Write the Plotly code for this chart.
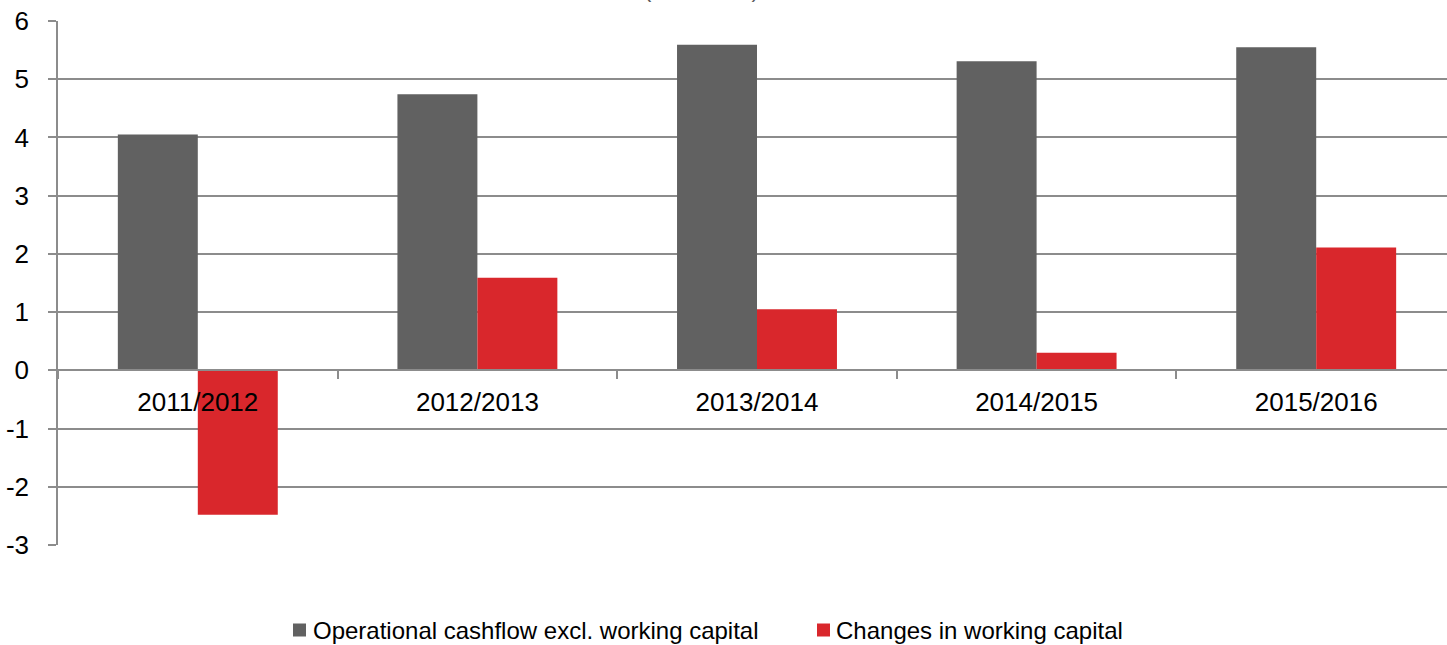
import plotly.graph_objects as go

categories = ["2011/2012", "2012/2013", "2013/2014", "2014/2015", "2015/2016"]
operational = [4.05, 4.74, 5.59, 5.31, 5.55]
working_capital = [-2.48, 1.59, 1.05, 0.30, 2.11]
series_names = ["Operational cashflow excl. working capital", "Changes in working capital"]
y_ticks = [-3, -2, -1, 0, 1, 2, 3, 4, 5, 6]
y_tick_text = ["-3", "-2", "-1", "0", "1", "2", "3", "4", "5", "6"]
title_text = "(in EUR bn)"

GREY = "#616161"
RED = "#D9272C"
AX = "#8c8c8c"
colors = [GREY, RED]

W, H = 1447, 645
ML, MT, MB = 58, 21, 100
PW, PH = W - ML, H - MT - MB

fig = go.Figure()
for name, vals, col in zip(series_names, [operational, working_capital], colors):
    fig.add_trace(go.Bar(x=categories, y=vals, name=name,
                         marker=dict(color=col, line=dict(width=0))))

fig.update_layout(
    width=W, height=H,
    margin=dict(l=ML, r=0, t=MT, b=MB, autoexpand=False),
    paper_bgcolor="white", plot_bgcolor="white",
    barmode="group", bargap=0.428, bargroupgap=0,
    font=dict(family="Liberation Sans, Arial", size=20, color="#000000"),
    showlegend=False,
    xaxis=dict(
        type="category", range=[-0.5, 4.5 - 9 / 279.7],
        anchor="free", position=1 / 3,
        showline=True, linecolor=AX, linewidth=1.5,
        ticks="outside", tickson="boundaries", ticklen=8, tickcolor=AX, tickwidth=1.5,
        showgrid=False, ticklabelstandoff=9,
        tickfont=dict(size=26),
    ),
    yaxis=dict(
        range=[-3, 6], tickmode="array", tickvals=y_ticks, ticktext=y_tick_text,
        showline=True, linecolor=AX, linewidth=1.5,
        showgrid=True, gridcolor=AX, gridwidth=1.5,
        zeroline=True, zerolinecolor=AX, zerolinewidth=1.5,
        ticks="outside", ticklen=8, tickcolor=AX, tickwidth=1.5,
        ticklabelstandoff=14,
        tickfont=dict(size=26),
    ),
)

# partially clipped title at the very top
fig.add_annotation(text=title_text, xref="paper", yref="paper",
                   x=(701 - ML) / PW, y=1.0, yanchor="bottom", yshift=17,
                   showarrow=False, font=dict(size=22, color="#595959"))

# manual legend (square + text), positioned in pixels
legend_items = [(293, 311), (817, 834)]
leg_y = 630
sq = 13
for (sx, tx), name, col in zip(legend_items, series_names, colors):
    fig.add_shape(type="rect", xref="paper", yref="paper",
                  x0=(sx - ML) / PW, x1=(sx + sq - ML) / PW,
                  y0=(H - MB - (leg_y + sq / 2)) / PH, y1=(H - MB - (leg_y - sq / 2)) / PH,
                  fillcolor=col, line=dict(width=0))
    fig.add_annotation(text=name, xref="paper", yref="paper",
                       x=(tx - ML) / PW, y=(H - MB - leg_y) / PH,
                       xanchor="left", yanchor="middle", showarrow=False,
                       font=dict(size=24, color="#000000"))

fig.write_html("out.html")
